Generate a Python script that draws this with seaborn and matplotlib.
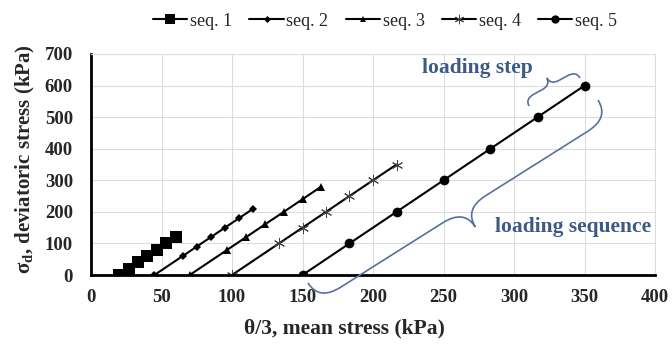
import numpy as np
import pandas as pd
import matplotlib
matplotlib.use("Agg")
import matplotlib.pyplot as plt
import seaborn as sns
from matplotlib.path import Path
from matplotlib.patches import PathPatch

# ---- data (deviatoric stress steps and mean stress) ----
seq_names = ["seq. 1", "seq. 2", "seq. 3", "seq. 4", "seq. 5"]
seq1_q = [0, 20, 40, 60, 80, 100, 120]
seq1_p = [20, 26.7, 33.3, 40, 46.7, 53.3, 60]
seq2_q = [0, 60, 90, 120, 150, 180, 210]
seq2_p = [45, 65, 75, 85, 95, 105, 115]
seq3_q = [0, 80, 120, 160, 200, 240, 280]
seq3_p = [70, 96.7, 110, 123.3, 136.7, 150, 163.3]
seq4_q = [0, 100, 150, 200, 250, 300, 350]
seq4_p = [100, 133.3, 150, 166.7, 183.3, 200, 216.7]
seq5_q = [0, 100, 200, 300, 400, 500, 600]
seq5_p = [150, 183.3, 216.7, 250, 283.3, 316.7, 350]

x_ticks = [0, 50, 100, 150, 200, 250, 300, 350, 400]
y_ticks = [0, 100, 200, 300, 400, 500, 600, 700]

sns.set_style("white")
plt.rcParams["font.family"] = ["Liberation Serif", "DejaVu Serif"]
plt.rcParams["mathtext.fontset"] = "custom"
plt.rcParams["mathtext.rm"] = "Liberation Serif"
plt.rcParams["mathtext.it"] = "Liberation Serif:italic"
plt.rcParams["mathtext.bf"] = "Liberation Serif:bold"

W, H = 672, 345
fig = plt.figure(figsize=(W / 100, H / 100), dpi=100)
L, R, T, B = 91, 655, 54, 275
ax = fig.add_axes([L / W, 1 - B / H, (R - L) / W, (B - T) / H])

styles = [
    dict(marker="s", markersize=8, markeredgewidth=0),
    dict(marker="D", markersize=4.2, markeredgewidth=0),
    dict(marker="^", markersize=5.5, markeredgewidth=0),
    dict(marker=(6, 2, 0), markersize=8, markeredgewidth=0.7, markeredgecolor="#444444"),
    dict(marker="o", markersize=7, markeredgewidth=0),
]
series = [(seq1_p, seq1_q), (seq2_p, seq2_q), (seq3_p, seq3_q), (seq4_p, seq4_q), (seq5_p, seq5_q)]

for name, (px, qy), st in zip(seq_names, series, styles):
    df = pd.DataFrame({"p": px, "q": qy})
    sns.lineplot(data=df, x="p", y="q", ax=ax, color="black", linewidth=1.5,
                 sort=False, label=name, markerfacecolor="black", **st)

ax.set_xlim(0, 400)
ax.set_ylim(0, 700)
ax.set_xticks(x_ticks)
ax.set_yticks(y_ticks)
ax.grid(True, color="#dcdcdc", linewidth=0.8)
ax.set_axisbelow(True)
for s in ["left", "bottom"]:
    ax.spines[s].set_color("black")
    ax.spines[s].set_linewidth(2)
for s in ["top", "right"]:
    ax.spines[s].set_color("#dcdcdc")
    ax.spines[s].set_linewidth(0.8)
ax.tick_params(axis="x", length=0, labelsize=13.5, pad=10)
ax.tick_params(axis="y", length=0, labelsize=13.5, pad=13)
for lab in ax.get_xticklabels() + ax.get_yticklabels():
    lab.set_fontweight("bold")

ax.set_xlabel("θ/3, mean stress (kPa)", fontsize=15.5, fontweight="bold")
ax.set_ylabel(r"σ$_\mathbf{d}$, deviatoric stress (kPa)", fontsize=15, fontweight="bold")
ax.xaxis.label.set_va("center")
ax.yaxis.label.set_va("center")
ax.xaxis.set_label_coords((344 - L) / (R - L), (B - 328) / (B - T))
ax.yaxis.set_label_coords((25 - L) / (R - L), (B - 159) / (B - T))

handles, labels = ax.get_legend_handles_labels()
ax.get_legend().remove()
fig.legend(handles, labels, loc="center", bbox_to_anchor=(385 / W, 1 - 21 / H), ncol=5,
           frameon=False, fontsize=13, handlelength=1.9, handletextpad=0.15,
           columnspacing=0.95, markerscale=0.85)

# ---- annotation braces (figure pixel coords, origin top-left) ----
bcol = "#56719e"

def brace(p1, p2, h):
    p1 = np.array(p1, float); p2 = np.array(p2, float)
    d = p2 - p1
    Ln = np.hypot(*d)
    u = d / Ln
    n = np.array([u[1], -u[0]])
    a = min(abs(h) * 1.2, Ln / 4)
    loc = [(0, 0), (0, h), (a, h), (Ln / 2 - a, h), (Ln / 2, h), (Ln / 2, 2 * h),
           (Ln / 2, h), (Ln / 2 + a, h), (Ln - a, h), (Ln, h), (Ln, 0)]
    codes = [Path.MOVETO, Path.CURVE3, Path.CURVE3, Path.LINETO, Path.CURVE3, Path.CURVE3,
             Path.CURVE3, Path.CURVE3, Path.LINETO, Path.CURVE3, Path.CURVE3]
    pts = []
    for s, t in loc:
        q = p1 + u * s + n * t
        pts.append((q[0] / W, 1 - q[1] / H))
    fig.patches.append(PathPatch(Path(pts, codes), transform=fig.transFigure,
                                 fill=False, edgecolor=bcol, linewidth=1.2, figure=fig))

brace((308, 283), (598, 100), -21)
brace((529, 106), (580, 78), 8)

fig.text(477 / W, 1 - 68 / H, "loading step", ha="center", va="center",
         fontsize=15.5, fontweight="bold", color="#3d5a87")
fig.text(573 / W, 1 - 227 / H, "loading sequence", ha="center", va="center",
         fontsize=15.5, fontweight="bold", color="#3d5a87")

fig.savefig("out.png", dpi=100)
